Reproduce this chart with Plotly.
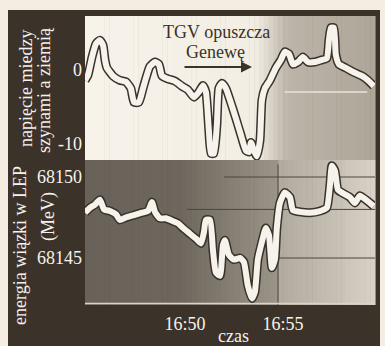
import plotly.graph_objects as go

# ---------------- data ----------------
volt_time = [44.90, 45.05, 45.26, 45.46, 45.66, 45.82, 45.92, 46.02, 46.33, 46.68,
             46.99, 47.24, 47.40, 47.65, 47.86, 48.01, 48.21, 48.47, 48.67, 48.83,
             49.13, 49.49, 49.85, 50.15, 50.46, 50.71, 50.92, 51.07, 51.22, 51.33,
             51.48, 51.63, 51.73, 51.89, 52.09, 52.30, 52.60, 52.86, 53.11, 53.27,
             53.37, 53.52, 53.67, 53.83, 53.93, 54.08, 54.34, 54.64, 54.90, 55.10,
             55.31, 55.51, 55.77, 56.02, 56.28, 56.63, 56.99, 57.24, 57.35, 57.45,
             57.60, 57.70, 57.86, 58.21, 58.62, 59.03, 59.34, 59.64]
volt_value = [-1.4, -0.7, 1.8, 3.6, 4.1, 3.4, 1.4, 0.3, -0.8, -1.4,
              -1.6, -2.5, -4.4, -4.4, -2.5, -1.1, 0.5, 1.1, 0.8, -0.8,
              -1.2, -1.5, -2.2, -2.7, -3.7, -3.0, -2.1, -3.0, -8.2, -11.4,
              -11.4, -7.5, -2.5, -1.8, -2.5, -4.1, -6.6, -8.9, -11.0, -11.2,
              -9.9, -11.0, -11.8, -9.6, -4.1, -2.5, -1.4, 0.3, 1.4, 2.5,
              2.2, 0.8, 1.1, 1.8, 1.1, 1.1, 1.4, 1.6, 4.1, 5.8,
              5.8, 2.1, 0.8, 0.3, -0.3, -0.8, -1.4, -2.2]

energy_time = [44.90, 45.15, 45.41, 45.66, 45.87, 46.17, 46.48, 46.68, 46.99, 47.40,
               47.81, 48.11, 48.32, 48.47, 48.72, 49.03, 49.34, 49.64, 49.95, 50.26,
               50.56, 50.82, 50.97, 51.07, 51.28, 51.43, 51.58, 51.79, 51.94, 52.04,
               52.24, 52.50, 52.81, 53.01, 53.21, 53.42, 53.57, 53.72, 53.93, 54.13,
               54.29, 54.44, 54.59, 54.69, 54.85, 55.10, 55.36, 55.51, 55.87, 56.38,
               56.89, 57.24, 57.40, 57.50, 57.65, 57.81, 58.06, 58.42, 58.67, 58.93,
               59.23, 59.64]
energy_value = [68147.8, 68148.1, 68148.3, 68148.6, 68148.0, 68147.9, 68147.7, 68147.35, 68147.5, 68147.65,
                68147.8, 68147.9, 68148.45, 68147.85, 68147.45, 68147.45, 68147.3, 68147.15, 68146.8, 68146.5,
                68146.2, 68145.9, 68146.6, 68147.35, 68147.35, 68145.5, 68144.1, 68143.9, 68145.8, 68146.1,
                68145.2, 68144.9, 68145.0, 68144.75, 68143.3, 68142.5, 68142.9, 68144.9, 68146.0, 68146.85,
                68146.4, 68144.4, 68144.9, 68146.85, 68148.4, 68149.05, 68148.75, 68147.95, 68147.85, 68147.8,
                68147.9, 68148.1, 68149.5, 68150.7, 68150.4, 68149.2, 68149.0, 68148.75, 68148.4, 68148.85,
                68148.6, 68148.2]

x_tick_vals = [50, 55]
x_tick_text = ["16:50", "16:55"]
volt_tick_vals = [0, -10]
volt_tick_text = ["0", "-10"]
energy_tick_vals = [68150, 68145]
energy_tick_text = ["68150", "68145"]

# ---------------- layout helpers ----------------
W, H = 385, 346
L, R, T, B = 85, 10, 16, 41
PW = W - L - R
PH = H - T - B


def px(x):
    return (x - L) / PW


def py(y):
    return (H - B - y) / PH


SPLIT = py(160)
DARK = "#3b3229"
CREAM = "#f3eee1"
WHITE = "#f6f3ec"
SERIF = "Liberation Serif, Times New Roman, serif"


def hex2rgb(h):
    h = h.lstrip("#")
    return [int(h[i:i + 2], 16) for i in (0, 2, 4)]


def gradient(stops, yref, n=60):
    """Background strips (paper x from pixel stops) inside one panel."""
    out = []
    x0, x1 = stops[0][0], stops[-1][0]
    for i in range(n):
        a = x0 + (x1 - x0) * i / n
        b = x0 + (x1 - x0) * (i + 1) / n
        m = (a + b) / 2
        for j in range(len(stops) - 1):
            if stops[j][0] <= m <= stops[j + 1][0]:
                t = (m - stops[j][0]) / (stops[j + 1][0] - stops[j][0])
                c0, c1 = hex2rgb(stops[j][1]), hex2rgb(stops[j + 1][1])
                c = [round(c0[k] + (c1[k] - c0[k]) * t) for k in range(3)]
                break
        out.append(dict(type="rect", xref="paper", yref=yref, x0=px(a), x1=px(b) + 0.002,
                        y0=0, y1=1, fillcolor="rgb(%d,%d,%d)" % tuple(c),
                        line=dict(width=0), layer="below"))
    return out


shapes = []
# cream page edges around the dark frame
shapes += [
    dict(type="rect", xref="paper", yref="paper", x0=px(0), x1=px(W), y0=py(10), y1=py(0),
         fillcolor=CREAM, line=dict(width=0), layer="below"),
    dict(type="rect", xref="paper", yref="paper", x0=px(0), x1=px(8), y0=py(H), y1=py(0),
         fillcolor=CREAM, line=dict(width=0), layer="below"),
    dict(type="rect", xref="paper", yref="paper", x0=px(380), x1=px(W), y0=py(H), y1=py(0),
         fillcolor=CREAM, line=dict(width=0), layer="below"),
]
# panel backgrounds
shapes += gradient([(85, "#f7f3ea"), (255, "#f2eee4"), (288, "#bcb4a8"), (375, "#aea699")], "y domain")
shapes += gradient([(85, "#69625a"), (180, "#6e675d"), (230, "#857e73"), (277, "#9b9488"),
                    (279, "#b1aa9e"), (330, "#c4beb2"), (375, "#d8d2c7")], "y2 domain")
# reference lines visible in the photo
shapes += [
    dict(type="line", xref="x", yref="y", x0=55.1, x1=59.3, y0=-3, y1=-3,
         line=dict(color="#e9e5dc", width=1.5), layer="below"),
    dict(type="line", xref="x", yref="y2", x0=52.0, x1=59.7, y0=68150, y1=68150,
         line=dict(color="#4d463d", width=1), layer="below"),
    dict(type="line", xref="x", yref="y2", x0=50.1, x1=59.7, y0=68148, y1=68148,
         line=dict(color="#4d463d", width=1), layer="below"),
    dict(type="line", xref="x", yref="y2", x0=54.75, x1=59.7, y0=68145, y1=68145,
         line=dict(color="#4d463d", width=1), layer="below"),
    dict(type="line", xref="x", yref="y2 domain", x0=54.75, x1=54.75, y0=0, y1=0.97,
         line=dict(color="#4d463d", width=1), layer="below"),
    dict(type="line", xref="paper", yref="y2 domain", x0=0, x1=1, y0=0.01, y1=0.01,
         line=dict(color="#d9d4ca", width=1.5), layer="below"),
]

fig = go.Figure()
for t, v, ya in [(volt_time, volt_value, "y"), (energy_time, energy_value, "y2")]:
    fig.add_trace(go.Scatter(x=t, y=v, yaxis=ya, mode="lines", hoverinfo="skip",
                             line=dict(color=DARK, width=9, shape="spline", smoothing=0.5),
                             showlegend=False))
    fig.add_trace(go.Scatter(x=t, y=v, yaxis=ya, mode="lines", hoverinfo="skip",
                             line=dict(color=WHITE, width=6, shape="spline", smoothing=0.5),
                             showlegend=False))

tickfont = dict(family=SERIF, size=18, color=WHITE)


def ann(text, x, y, size=18, color=WHITE, angle=0):
    return dict(text=text, x=px(x), y=py(y), xref="paper", yref="paper", showarrow=False,
                xanchor="center", yanchor="middle", textangle=angle,
                font=dict(family=SERIF, size=size, color=color))


annotations = [
    ann("napięcie miedzy", 26, 89, angle=-90),
    ann("szynami a ziemią", 44, 90, angle=-90),
    ann("energia wiązki w LEP", 20, 246, angle=-90),
    ann("(MeV)", 48, 217, angle=-90),
    ann("czas", 233, 336),
    ann("TGV opuszcza", 216, 32, color=DARK),
    ann("Genewę", 215, 52, color=DARK),
    dict(text="", x=px(252), y=py(67), xref="paper", yref="paper", showarrow=True,
         ax=-69, ay=0, axref="pixel", ayref="pixel", arrowhead=2, arrowsize=1.1,
         arrowwidth=2, arrowcolor=DARK),
]

fig.update_layout(
    width=W, height=H,
    margin=dict(l=L, r=R, t=T, b=B, pad=0),
    paper_bgcolor=DARK, plot_bgcolor="rgba(0,0,0,0)",
    shapes=shapes, annotations=annotations,
    xaxis=dict(range=[44.9, 59.7], anchor="y2", tickvals=x_tick_vals, ticktext=x_tick_text,
               tickfont=tickfont, showgrid=False, zeroline=False, showline=False,
               ticks="", ticklabelstandoff=6, fixedrange=True),
    yaxis=dict(domain=[SPLIT, 1], range=[-12.3, 7.4], tickvals=volt_tick_vals,
               ticktext=volt_tick_text, tickfont=tickfont, showgrid=False, zeroline=False,
               ticks="", ticklabelstandoff=2, fixedrange=True),
    yaxis2=dict(domain=[0, SPLIT], range=[68142.1, 68151.05], tickvals=energy_tick_vals,
                ticktext=energy_tick_text, tickfont=tickfont, showgrid=False, zeroline=False,
                ticks="", ticklabelstandoff=2, fixedrange=True),
)

fig.write_html("out.html", config={"displayModeBar": False},
               post_script="document.body.style.margin='0';document.body.style.background='%s';" % CREAM)
